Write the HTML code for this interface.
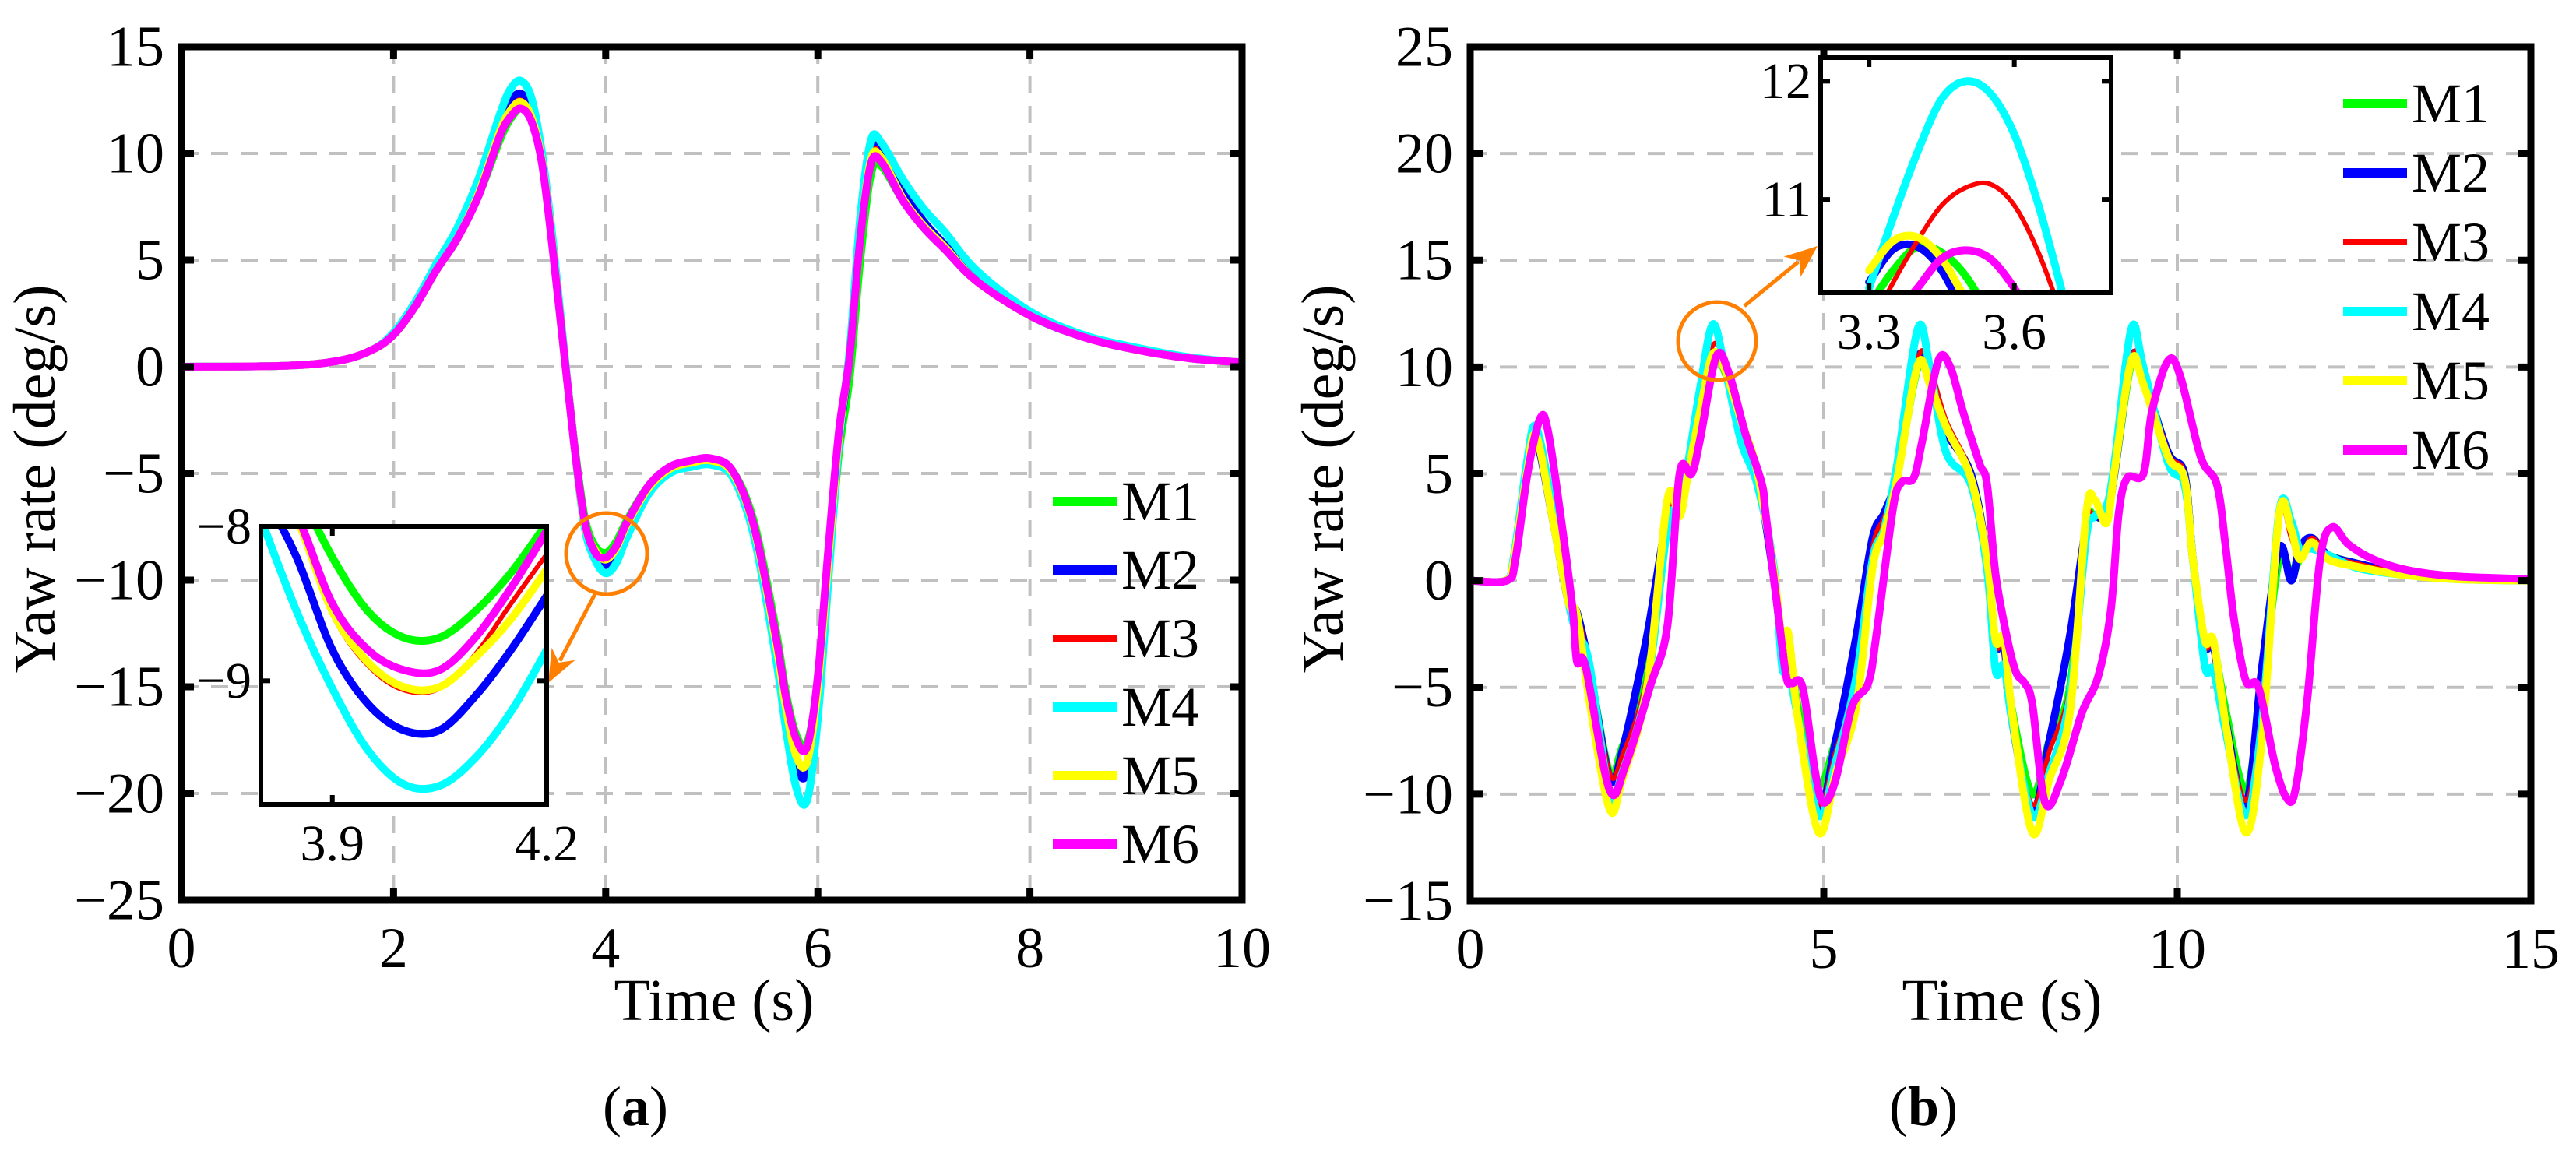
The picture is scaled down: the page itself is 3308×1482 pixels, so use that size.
<!DOCTYPE html>
<html><head><meta charset="utf-8">
<style>
html,body{margin:0;padding:0;background:#fff;}
svg, svg text{font-family:"Liberation Serif","DejaVu Serif","Noto Serif CJK SC",serif;}
</style></head>
<body>
<svg id="fig" width="3308" height="1477" viewBox="0 0 3308 1477" xmlns="http://www.w3.org/2000/svg">
<defs>
<clipPath id="clipA"><rect x="233" y="60" width="1362" height="1096"/></clipPath>
<clipPath id="clipB"><rect x="1888" y="60" width="1362" height="1097"/></clipPath>
<clipPath id="clipIA"><rect x="335" y="676" width="367" height="357"/></clipPath>
<clipPath id="clipIB"><rect x="2338" y="74" width="373" height="302"/></clipPath>
</defs>
<g id="layer"></g>
</svg>
<script>
// ---------- Data: panel (a) ----------
const aTime = [0,1,1.5,1.8,2,2.2,2.4,2.6,2.8,3.0,3.1,3.2,3.3,3.4,3.5,3.6,3.7,3.8,3.9,4.0,4.1,4.2,4.4,4.6,4.8,5.0,5.2,5.4,5.6,5.7,5.8,5.9,6.0,6.1,6.2,6.3,6.4,6.5,6.6,6.8,7.0,7.2,7.5,8,8.5,9,9.5,10];
const aM1 = [0,0.05,0.3,0.8,1.5,2.8,4.5,6,8,10.6,11.6,12.1,11.6,9.6,5.6,1,-3.4,-7,-8.4,-8.72,-8.2,-7.2,-5.6,-4.8,-4.5,-4.4,-4.9,-7.3,-12.2,-15.3,-17.3,-17.6,-14.8,-9.5,-4,-0.5,5,9,9.4,7.8,6.5,5.5,4,2.4,1.4,0.8,0.4,0.2];
const aM2 = [0,0.05,0.3,0.8,1.5,2.8,4.5,6,8.2,11.2,12.4,12.8,12,9.8,5.8,1.1,-3.5,-7.4,-8.85,-9.3,-8.7,-7.6,-5.8,-4.9,-4.6,-4.5,-5.1,-7.8,-13,-16.3,-18.8,-19,-15.5,-9.5,-3.5,0.5,6.3,10.1,10.1,8.2,6.8,5.7,4.1,2.4,1.4,0.8,0.4,0.2];
const aM3 = [0,0.05,0.3,0.8,1.5,2.8,4.5,6,8.1,11,12.1,12.5,11.8,9.6,5.6,1,-3.5,-7.3,-8.6,-9.06,-8.5,-7.4,-5.7,-4.8,-4.5,-4.4,-5,-7.6,-12.8,-16,-18.2,-18.4,-15,-9,-3.2,0.5,6.2,9.9,9.9,8,6.6,5.6,4,2.4,1.4,0.8,0.4,0.2];
const aM4 = [0,0.05,0.3,0.8,1.6,3,4.8,6.5,8.8,11.8,13,13.4,12.6,10,6,1.2,-3.5,-7.5,-9.05,-9.68,-9.2,-8,-6,-5,-4.7,-4.6,-5.2,-8,-13.5,-17,-19.8,-20.3,-16.5,-10,-3.5,0.8,7,10.6,10.5,8.8,7.4,6.3,4.5,2.6,1.5,0.9,0.45,0.2];
const aM5 = [0,0.05,0.3,0.8,1.5,2.8,4.5,6,8.1,11,12.0,12.4,11.7,9.6,5.6,1,-3.5,-7.3,-8.6,-9.04,-8.5,-7.4,-5.7,-4.8,-4.5,-4.4,-5,-7.6,-12.8,-16,-18.3,-18.5,-15,-9,-3.2,0.5,6,9.7,9.8,7.9,6.6,5.6,4,2.4,1.4,0.8,0.4,0.2];
const aM6 = [0,0.05,0.3,0.8,1.5,2.8,4.5,6,8,10.8,11.7,12.1,11.5,9.5,5.5,1,-3.5,-7.2,-8.7,-8.94,-8.4,-7.3,-5.6,-4.7,-4.4,-4.3,-4.9,-7.5,-12.5,-15.5,-17.5,-17.8,-14.5,-8.5,-3,0.5,6,9.5,9.6,7.8,6.5,5.5,4,2.4,1.4,0.8,0.4,0.2];
const aXTicks = [0,2,4,6,8,10];
const aYTicks = [-25,-20,-15,-10,-5,0,5,10,15];
// inset (a)
const iaTime = [3.8,3.85,3.9,3.95,4.0,4.05,4.1,4.15,4.2];
const iaM1 = [-7.4,-7.75,-8.2,-8.55,-8.72,-8.72,-8.55,-8.3,-7.98];
const iaM2 = [-7.75,-8.2,-8.8,-9.15,-9.32,-9.32,-9.1,-8.8,-8.45];
const iaM3 = [-7.6,-7.97,-8.57,-8.9,-9.06,-9.05,-8.83,-8.5,-8.18];
const iaM4 = [-7.95,-8.55,-9.05,-9.45,-9.67,-9.68,-9.5,-9.2,-8.8];
const iaM5 = [-7.6,-7.95,-8.55,-8.88,-9.04,-9.04,-8.85,-8.6,-8.28];
const iaM6 = [-7.55,-7.92,-8.5,-8.8,-8.93,-8.93,-8.72,-8.4,-8.03];
const iaXTicks = [3.9,4.2];
const iaYTicks = [-9,-8];

// ---------- Data: panel (b) ----------
const bTime = [0,0.5,0.62,0.8,0.93,1.16,1.39,1.51,1.68,1.97,2.15,2.5,2.79,2.96,3.08,3.25,3.43,3.6,3.83,4.06,4.3,4.41,4.5,4.64,4.93,5.17,5.46,5.69,5.86,6.04,6.33,6.5,6.73,7.08,7.31,7.43,7.55,7.66,7.95,8.19,8.48,8.71,8.83,9.0,9.11,9.35,9.52,9.87,10.1,10.22,10.39,10.51,10.68,10.97,11.2,11.44,11.61,11.73,11.9,12.13,12.54,13.12,13.93,15];
const bM1 = [0,0,1,5,6.7,3,-1,-1.5,-4,-9,-7.8,-4.5,3,3.2,5,8,10.5,9.8,7,5,0,-3,-3,-6,-9.5,-7.5,-4.5,1.5,3,5,10,9.5,7,5,1,-3,-3,-6,-10,-7.5,-5,2.5,3,3,5,10.2,9.5,6,5,1,-3,-3,-6,-9.8,-5,1,0.3,1,1.8,1.2,0.8,0.4,0.1,0];
const bM2 = [0,0,1,5,6.6,3,-1,-1.5,-4,-9.2,-8,-2.6,3,3.2,5,8,10.5,10,7,5,0,-3,-3,-6.5,-10.8,-7.5,-2.6,2,3.2,5,10.4,9.5,7,5,1,-3,-3,-6.5,-10.8,-7.5,-2.6,2.5,3,3,5,10.4,9.5,6,5,1,-3,-3,-6.5,-10.5,-4,1.5,0,1.5,2,1.2,0.8,0.4,0.1,0];
const bM3 = [0,0,1,5,6.5,3,-1,-1.5,-4,-9,-8.2,-4.5,3,3.2,5,8,11,10.2,7,5,0,-3,-3,-6.5,-10.5,-8,-4.5,1.5,3,5,10.4,10,7.5,5,1,-3,-3,-6.5,-10.5,-8,-5,2.5,3,3,5,10.4,9.8,6,5,1,-3,-3,-6.5,-10.3,-6,3,2,1,2,1.2,0.8,0.4,0.1,0];
const bM4 = [0,0,1.2,5.5,7.2,3.5,-1,-2.5,-3.8,-10,-9,-5,2.5,3.5,5.5,9,12,10,6.5,4.5,0.5,-4,-4.2,-6.5,-11,-8.5,-4.5,1,2.5,5.5,11.8,10,6,4.5,0.5,-4.2,-4,-6.5,-11,-9,-5.5,2,3,3.5,5.5,11.8,10,5.5,4.5,1,-4,-4.2,-7,-11,-6.5,3.2,2.8,1.5,1.5,1.2,0.6,0.3,0.07,0];
const bM5 = [0,0,1,5,6.8,3,-1,-1.6,-5.5,-10.7,-9.3,-5,3.8,3,5,7.9,10.6,9.9,7.5,5.1,0.3,-2.8,-2.5,-6.6,-11.8,-9,-5.9,0.6,2.3,4.8,10.1,9.2,7.2,4.8,1,-2.8,-2.7,-6.1,-11.8,-9.3,-6.2,3.1,3.8,2.7,5.1,10.3,9.2,5.8,4.8,1,-2.8,-2.8,-6.6,-11.8,-7.3,3.1,2.4,1,1.8,1,0.65,0.3,0.07,0];
const bTimeM6 = [0,0.52,0.64,0.81,0.99,1.1,1.28,1.45,1.51,1.63,1.97,2.2,2.55,2.79,2.96,3.13,3.25,3.48,3.66,3.89,4.12,4.18,4.35,4.47,4.55,4.7,4.88,5.0,5.17,5.4,5.63,5.75,5.98,6.1,6.27,6.39,6.62,6.79,6.97,7.2,7.31,7.43,7.6,7.72,7.84,7.95,8.13,8.36,8.65,8.88,9.06,9.17,9.29,9.52,9.64,9.87,10.04,10.33,10.56,10.68,10.8,10.97,11.15,11.38,11.55,11.67,11.84,12.02,12.19,12.42,12.77,13.24,13.93,15];
const bM6 = [0,0,1,5,7.6,7,3,-1.4,-3.8,-4,-9.8,-8.6,-4.9,-2.1,5,5,6.6,10.5,9.7,6.9,4.6,3.1,-1.4,-4.5,-4.8,-5,-9,-10.4,-9.3,-5.9,-4.8,-2.4,3.4,4.6,4.8,6.5,10.3,10,7.9,5.5,4.5,0.3,-2.8,-4.3,-4.8,-5.8,-10.4,-9.3,-6.2,-4.5,-1.4,3.1,4.8,5,7.9,10.3,9.6,5.8,4.5,1.7,-1.75,-4.7,-5,-8.6,-10.2,-9.8,-5.5,1,2.5,1.7,1,0.5,0.2,0.07];
const bXTicks = [0,5,10,15];
const bYTicks = [-15,-10,-5,0,5,10,15,20,25];
// inset (b)
const ibTime = [3.3,3.35,3.4,3.45,3.5,3.55,3.6,3.65,3.7];
const ibM1 = [10.1,10.4,10.6,10.55,10.35,10.0,9.6,9.2,8.8];
const ibM2 = [10.3,10.58,10.6,10.4,10.0,9.6,9.2,8.8,8.4];
const ibM3 = [9.9,10.3,10.65,10.95,11.1,11.13,10.95,10.55,10.0];
const ibM4 = [10.25,10.85,11.4,11.85,12.0,11.9,11.55,10.95,10.2];
const ibM5 = [10.4,10.65,10.68,10.5,10.15,9.8,9.4,9.0,8.6];
const ibM6 = [9.7,10.0,10.25,10.5,10.57,10.5,10.25,9.9,9.5];
const ibXTicks = [3.3,3.6];
const ibYTicks = [11,12];

const legendNames = ["M1","M2","M3","M4","M5","M6"];
const colors = ["#00ff00","#0000ff","#ff0000","#00ffff","#ffff00","#ff00ff"];
const widths = [10,10,6,10,10,10];

// ---------- helpers ----------
const NS = "http://www.w3.org/2000/svg";
const FONT = '"Liberation Serif", "DejaVu Serif", "Noto Serif CJK SC", serif';
const layer = document.getElementById('layer');
function el(tag, attrs, parent){
  const e = document.createElementNS(NS, tag);
  for (const k in attrs) e.setAttribute(k, attrs[k]);
  (parent||layer).appendChild(e);
  return e;
}
function axis(px0, px1, py0, py1, xmin, xmax, ymin, ymax){
  return {
    x: v => px0 + (v - xmin) / (xmax - xmin) * (px1 - px0),
    y: v => py1 - (v - ymin) / (ymax - ymin) * (py1 - py0),
    px0, px1, py0, py1
  };
}
function smoothPath(pts){
  if (pts.length < 2) return "";
  let d = "M" + pts[0][0].toFixed(1) + "," + pts[0][1].toFixed(1);
  for (let i = 0; i < pts.length - 1; i++){
    const p0 = pts[Math.max(0, i-1)], p1 = pts[i], p2 = pts[i+1], p3 = pts[Math.min(pts.length-1, i+2)];
    const c1x = p1[0] + (p2[0]-p0[0])/6, c1y = p1[1] + (p2[1]-p0[1])/6;
    const c2x = p2[0] - (p3[0]-p1[0])/6, c2y = p2[1] - (p3[1]-p1[1])/6;
    d += "C" + c1x.toFixed(1) + "," + c1y.toFixed(1) + " " + c2x.toFixed(1) + "," + c2y.toFixed(1) + " " + p2[0].toFixed(1) + "," + p2[1].toFixed(1);
  }
  return d;
}
function series(ax, times, vals, color, w, clip, name){
  const n = Math.min(times.length, vals.length);
  const pts = [];
  for (let i = 0; i < n; i++) pts.push([ax.x(times[i]), ax.y(vals[i])]);
  const p = el('path', {d: smoothPath(pts), fill: 'none', stroke: color, 'stroke-width': w, 'stroke-linejoin': 'round', 'stroke-linecap': 'round', 'clip-path': 'url(#' + clip + ')'});
  
  
  return p;
}
function text(x, y, str, size, anchor, name, extra, parent){
  const t = el('text', Object.assign({x: x, y: y, 'font-size': size, 'text-anchor': anchor, fill: '#000'}, extra||{}), parent);
  t.style.fontFamily = FONT;
  t.textContent = str;
  
  
  return t;
}
function fmt(v){ return v < 0 ? "\u2212" + Math.abs(v) : String(v); }

function panel(ax, xt, yt, pfx){
  const g = el('g', {});
  
  
  xt.forEach(v => {
    if (v === xt[0] || v === xt[xt.length-1]) return;
    el('line', {x1: ax.x(v), x2: ax.x(v), y1: ax.py0, y2: ax.py1, stroke: '#c0c0c0', 'stroke-width': 4, 'stroke-dasharray': '22 16'}, g);
  });
  yt.forEach(v => {
    if (v === yt[0] || v === yt[yt.length-1]) return;
    el('line', {x1: ax.px0, x2: ax.px1, y1: ax.y(v), y2: ax.y(v), stroke: '#c0c0c0', 'stroke-width': 4, 'stroke-dasharray': '22 16'}, g);
  });
}
function frame(ax, xt, yt, tl, sw, fs, pfx, xlabDy, ylabDx){
  const g = el('g', {});
  
  
  xt.forEach(v => {
    el('line', {x1: ax.x(v), x2: ax.x(v), y1: ax.py1, y2: ax.py1 - tl, stroke: '#000', 'stroke-width': sw}, g);
    el('line', {x1: ax.x(v), x2: ax.x(v), y1: ax.py0, y2: ax.py0 + tl, stroke: '#000', 'stroke-width': sw}, g);
    text(ax.x(v), ax.py1 + xlabDy, fmt(v), fs, 'middle', pfx + '-x-tick-label');
  });
  yt.forEach(v => {
    el('line', {x1: ax.px0, x2: ax.px0 + tl, y1: ax.y(v), y2: ax.y(v), stroke: '#000', 'stroke-width': sw}, g);
    el('line', {x1: ax.px1, x2: ax.px1 - tl, y1: ax.y(v), y2: ax.y(v), stroke: '#000', 'stroke-width': sw}, g);
    text(ax.px0 - ylabDx, ax.y(v) + fs*0.33, fmt(v), fs, 'end', pfx + '-y-tick-label');
  });
  const r = el('rect', {x: ax.px0, y: ax.py0, width: ax.px1 - ax.px0, height: ax.py1 - ax.py0, fill: 'none', stroke: '#000', 'stroke-width': sw});
  
  
}
function legend(x, y0, dy, pfx){
  legendNames.forEach((n, i) => {
    const g = el('g', {});
    
    
    const y = y0 + i*dy;
    el('line', {x1: x, x2: x + 82, y1: y, y2: y, stroke: colors[i], 'stroke-width': widths[i] + 2}, g);
    text(x + 88, y + 24, n, 72, 'start', pfx + '-legend-label-' + n.toLowerCase(), {}, g);
  });
}
function arrow(x1, y1, x2, y2, pfx){
  const ang = Math.atan2(y2 - y1, x2 - x1);
  const L = 42, W = 17;
  const bx = x2 - L*Math.cos(ang), by = y2 - L*Math.sin(ang);
  const nx = -Math.sin(ang), ny = Math.cos(ang);
  const ln = el('line', {x1: x1, y1: y1, x2: bx + 10*Math.cos(ang), y2: by + 10*Math.sin(ang), stroke: '#ff8000', 'stroke-width': 5});
  
  
  const mx = x2 - L*0.7*Math.cos(ang), my = y2 - L*0.7*Math.sin(ang);
  const hd = el('polygon', {points: [x2, y2, bx + W*nx, by + W*ny, mx, my, bx - W*nx, by - W*ny].map(v => v.toFixed(1)).join(' '), fill: '#ff8000'});
  
  
}
function panelLabel(x, y, letter, pfx){
  const t = el('text', {x: x, y: y, 'font-size': 72, 'text-anchor': 'middle', fill: '#000'});
  t.style.fontFamily = FONT;
  
  
  const a = el('tspan', {}, t); a.textContent = '(';
  const b = el('tspan', {'font-weight': 'bold'}, t); b.textContent = letter;
  const c = el('tspan', {}, t); c.textContent = ')';
}

// ---------- Panel (a) ----------
const A = axis(233, 1595, 60, 1156, 0, 10, -25, 15);
panel(A, aXTicks, aYTicks, 'a');
const aData = [aM1, aM2, aM3, aM4, aM5, aM6];
aData.forEach((s, i) => series(A, aTime, s, colors[i], widths[i], 'clipA', 'a-line-' + legendNames[i].toLowerCase()));
frame(A, aXTicks, aYTicks, 16, 9, 74, 'a', 86, 22);
legend(1352, 644, 88, 'a');
text(917, 1310, "Time (s)", 76, 'middle', 'a-x-axis-title');
text(0, 0, "Yaw rate (deg/s)", 76, 'middle', 'a-y-axis-title', {transform: 'translate(70,615) rotate(-90)'});
panelLabel(816, 1445, 'a', 'a');
const circA = el('ellipse', {cx: 779, cy: 711, rx: 52, ry: 52, fill: 'none', stroke: '#ff8000', 'stroke-width': 5});
 
arrow(764, 763, 704, 877, 'a');
// inset (a)
const IA = axis(335, 702, 676, 1033, 3.8, 4.2, -9.8, -8);
const bgA = el('rect', {x: 335, y: 676, width: 367, height: 357, fill: '#fff'});
 
[iaM1, iaM2, iaM3, iaM4, iaM5, iaM6].forEach((s, i) => series(IA, iaTime, s, colors[i], widths[i], 'clipIA', 'a-inset-line-' + legendNames[i].toLowerCase()));
frame(IA, iaXTicks, iaYTicks, 12, 6, 66, 'a-inset', 72, 12);

// ---------- Panel (b) ----------
const B = axis(1888, 3250, 60, 1157, 0, 15, -15, 25);
panel(B, bXTicks, bYTicks, 'b');
series(B, bTime, bM1, colors[0], widths[0], 'clipB', 'b-line-m1');
series(B, bTime, bM2, colors[1], widths[1], 'clipB', 'b-line-m2');
series(B, bTime, bM3, colors[2], widths[2], 'clipB', 'b-line-m3');
series(B, bTime, bM4, colors[3], widths[3], 'clipB', 'b-line-m4');
series(B, bTime, bM5, colors[4], widths[4], 'clipB', 'b-line-m5');
series(B, bTimeM6, bM6, colors[5], widths[5], 'clipB', 'b-line-m6');
frame(B, bXTicks, bYTicks, 16, 9, 74, 'b', 86, 22);
legend(3009, 133, 89, 'b');
text(2571, 1310, "Time (s)", 76, 'middle', 'b-x-axis-title');
text(0, 0, "Yaw rate (deg/s)", 76, 'middle', 'b-y-axis-title', {transform: 'translate(1724,615) rotate(-90)'});
panelLabel(2470, 1445, 'b', 'b');
const circB = el('ellipse', {cx: 2205, cy: 438, rx: 50, ry: 50, fill: 'none', stroke: '#ff8000', 'stroke-width': 5});
 
arrow(2240, 393, 2334, 316, 'b');
const IB = axis(2338, 2711, 74, 376, 3.2, 3.8, 10.21, 12.2);
const bgB = el('rect', {x: 2338, y: 74, width: 373, height: 302, fill: '#fff'});
 
[ibM1, ibM2, ibM3, ibM4, ibM5, ibM6].forEach((s, i) => series(IB, ibTime, s, colors[i], widths[i], 'clipIB', 'b-inset-line-' + legendNames[i].toLowerCase()));
frame(IB, ibXTicks, ibYTicks, 12, 6, 66, 'b-inset', 72, 12);
</script>
</body></html>
